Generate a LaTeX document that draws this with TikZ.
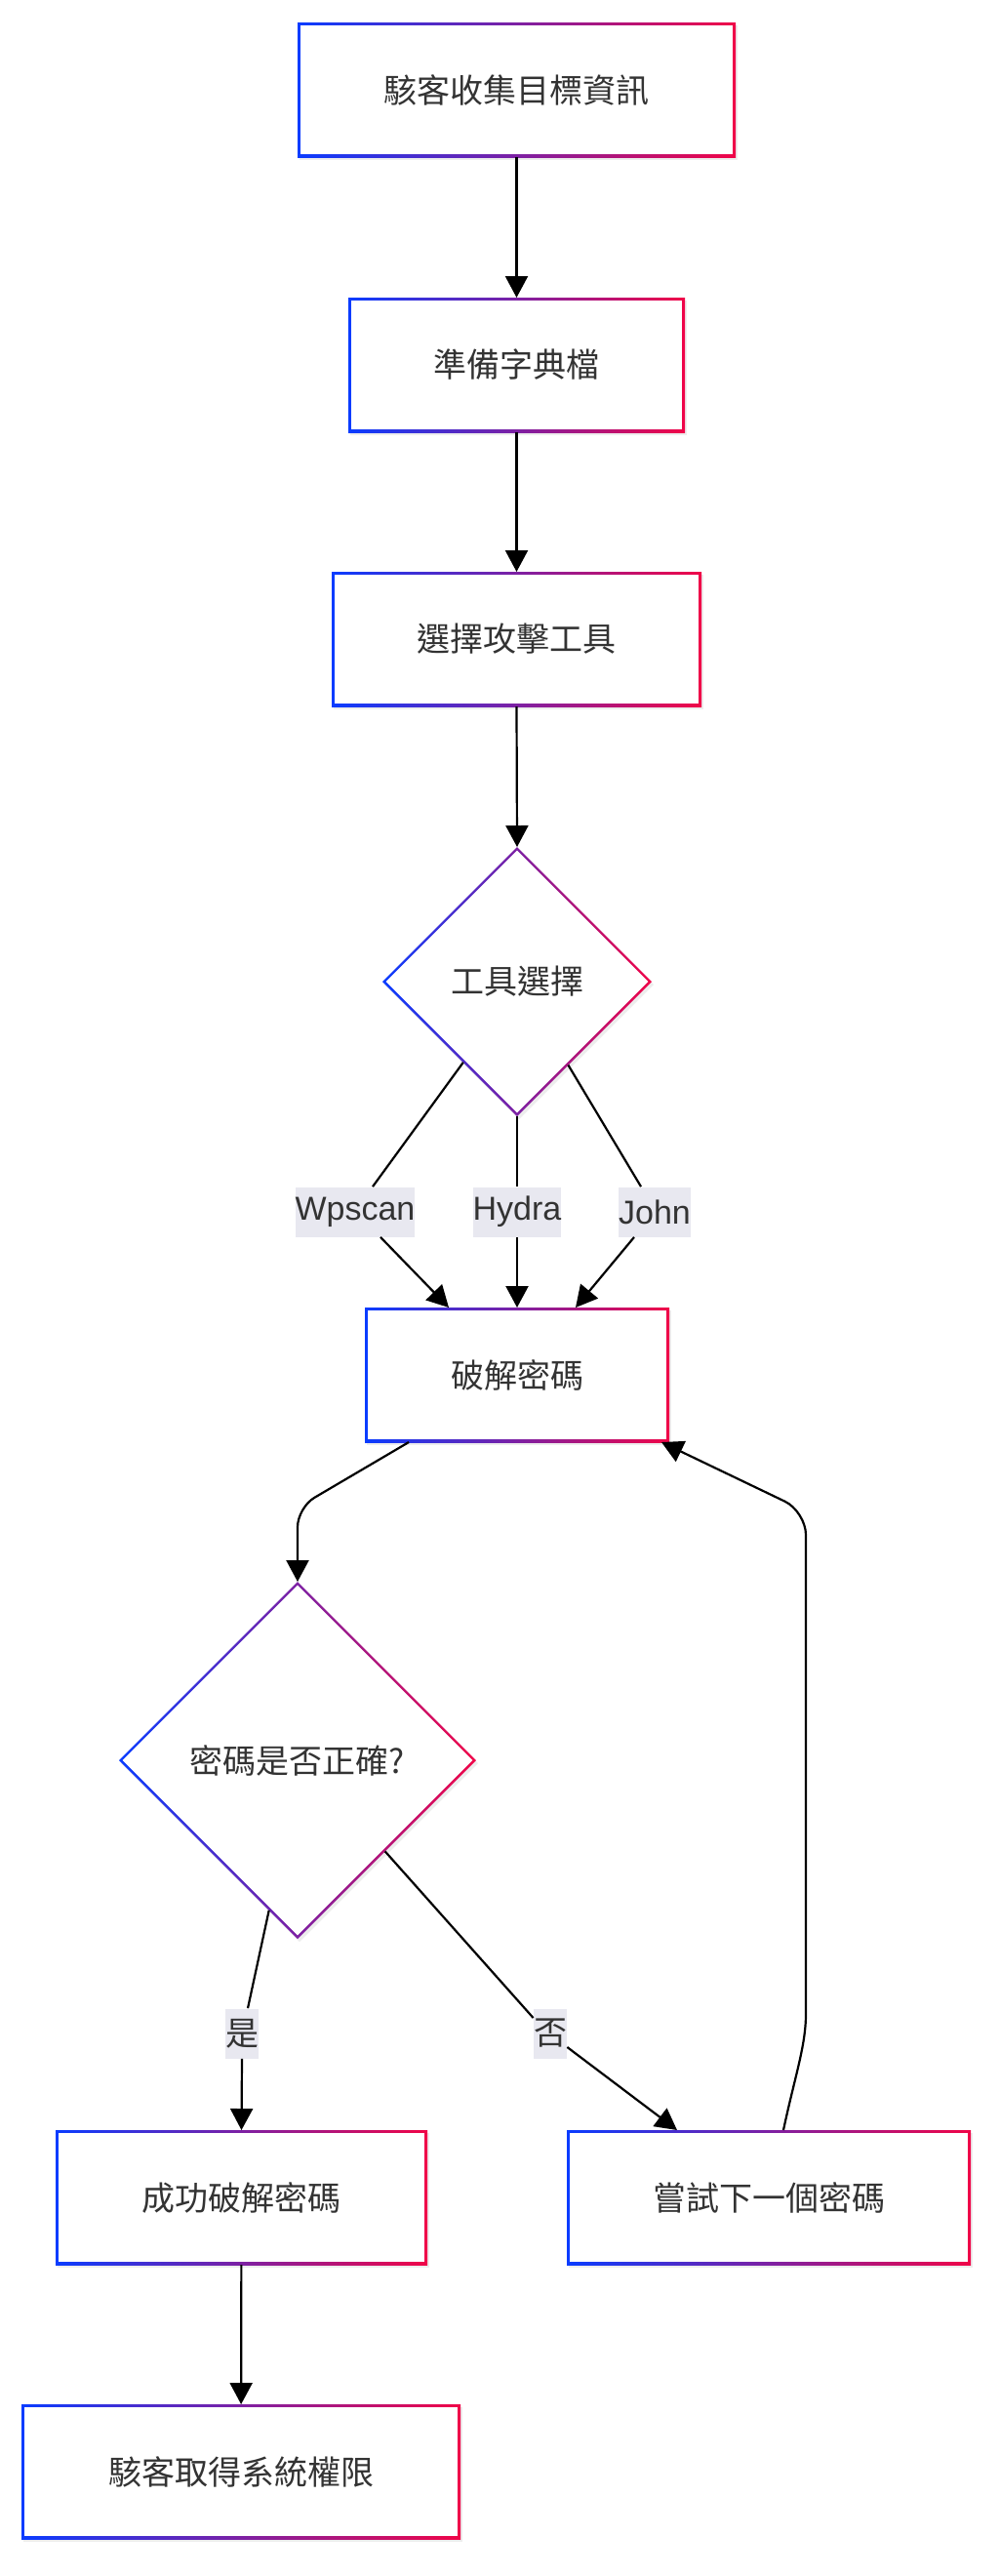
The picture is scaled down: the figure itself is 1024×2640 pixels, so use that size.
\documentclass[tikz,border=0pt]{standalone}
\usepackage{fontspec}
\setmainfont{Liberation Sans}
\newfontfamily\cjk{Noto Sans CJK TC}
\usepackage{tikz}
\usepackage{xcolor}
\usetikzlibrary{shapes.geometric,arrows.meta,calc,shadows}
\definecolor{gradblue}{HTML}{0A3CFF}
\definecolor{gradred}{HTML}{F00548}
\definecolor{labelbg}{RGB}{232,232,240}
\definecolor{textgrey}{HTML}{333333}
\tikzset{
    grad-shape/.style = {inner sep=0pt, outer sep=0pt, left color=gradblue, right color=gradred, text=textgrey, font=\cjk\fontsize{17pt}{20pt}\selectfont, drop shadow={shadow xshift=1pt, shadow yshift=-1.5pt, fill=black!20, opacity=0.35}},
    grad-box/.style = {grad-shape, rectangle, minimum width=#1, minimum height=69pt,
        path picture={\fill[white] ([shift={(1.3pt,-1.3pt)}]path picture bounding box.north west) rectangle ([shift={(-1.3pt,1.3pt)}]path picture bounding box.south east);}},
    grad-diamond/.style = {grad-shape, diamond, aspect=1, minimum width=#1, minimum height=#1,
        path picture={\fill[white] ([yshift=-1.85pt]path picture bounding box.north) -- ([xshift=-1.85pt]path picture bounding box.east) -- ([yshift=1.85pt]path picture bounding box.south) -- ([xshift=1.85pt]path picture bounding box.west) -- cycle;}},
    edge-label/.style = {fill=labelbg, inner xsep=0pt, inner ysep=0pt, minimum height=25.5pt, text=textgrey, font=\fontsize{17pt}{20pt}\selectfont},
    flow-line/.style = {draw=black, line width=1.1pt},
    flow-arrow/.style = {flow-line, -{Triangle[length=11pt,width=11.5pt]}},
}
\begin{document}
\begin{tikzpicture}[x=0.5pt,y=-0.5pt]
\fill[white] (0,0) rectangle (1024,2640);
\useasboundingbox (0,0) rectangle (1024,2640);

% steps of the attack
\node[grad-box=224.5pt] (intel) at (529.5,92) {駭客收集目標資訊};
\node[grad-box=172.5pt] (dict) at (529.5,374) {準備字典檔};
\node[grad-box=189.5pt] (pick) at (529.5,655) {選擇攻擊工具};
\node[grad-diamond=138pt] (tool) at (530,1006) {工具選擇};
\node[grad-box=156pt] (crack) at (530,1409) {破解密碼};
\node[grad-diamond=183pt] (check) at (305,1804) {密碼是否正確?};
\node[grad-box=190.5pt] (ok) at (247.5,2252) {成功破解密碼};
\node[grad-box=207pt] (next) at (788,2252) {嘗試下一個密碼};
\node[grad-box=225pt] (root) at (247,2533) {駭客取得系統權限};

% labels on the branches
\node[edge-label] (wp) at (364,1242) {Wpscan};
\node[edge-label] (hy) at (530,1242) {Hydra};
\node[edge-label] (jo) at (671,1242) {John};
\node[edge-label, font=\cjk\fontsize{17pt}{20pt}\selectfont] (yes) at (248,2084) {是};
\node[edge-label, font=\cjk\fontsize{17pt}{20pt}\selectfont] (no) at (564,2084) {否};

\coordinate (back-low) at (826,2040);
\coordinate (back-high) at (826,1549);

% connectors
\draw[flow-arrow] (intel) -- (dict);
\draw[flow-arrow] (dict) -- (pick);
\draw[flow-arrow] (pick.south) -- (tool.north);
\draw[flow-line] ($(tool.west)!0.6!(tool.south)$) -- ([xshift=9pt]wp.north);
\draw[flow-arrow] ([xshift=13pt]wp.south) -- ([xshift=-35pt]crack.north);
\draw[flow-line] (tool.south) -- (hy.north);
\draw[flow-arrow] (hy.south) -- (crack.north);
\draw[flow-line] ($(tool.south)!0.38!(tool.east)$) -- ([xshift=-7pt]jo.north);
\draw[flow-arrow] ([xshift=-10.5pt]jo.south) -- ([xshift=30pt]crack.north);
\draw[flow-arrow, rounded corners=10pt] ([xshift=-55.5pt]crack.south) -- ([yshift=38pt]check.north) -- (check.north);
\draw[flow-line] ($(check.south)!0.16!(check.west)$) -- ([xshift=3pt]yes.north);
\draw[flow-arrow] (yes.south) -- (ok.north);
\draw[flow-line] ($(check.south)!0.49!(check.east)$) -- ([yshift=8pt]no.west);
\draw[flow-arrow] ([yshift=-7pt]no.east) -- ([xshift=-47pt]next.north);
\draw[flow-arrow] (ok) -- (root);
\draw[flow-arrow, rounded corners=12pt] ([xshift=7.5pt]next.north) to[out=78,in=-90] (back-low) -- (back-high) -- ([xshift=-4pt]crack.south east);
\end{tikzpicture}
\end{document}
